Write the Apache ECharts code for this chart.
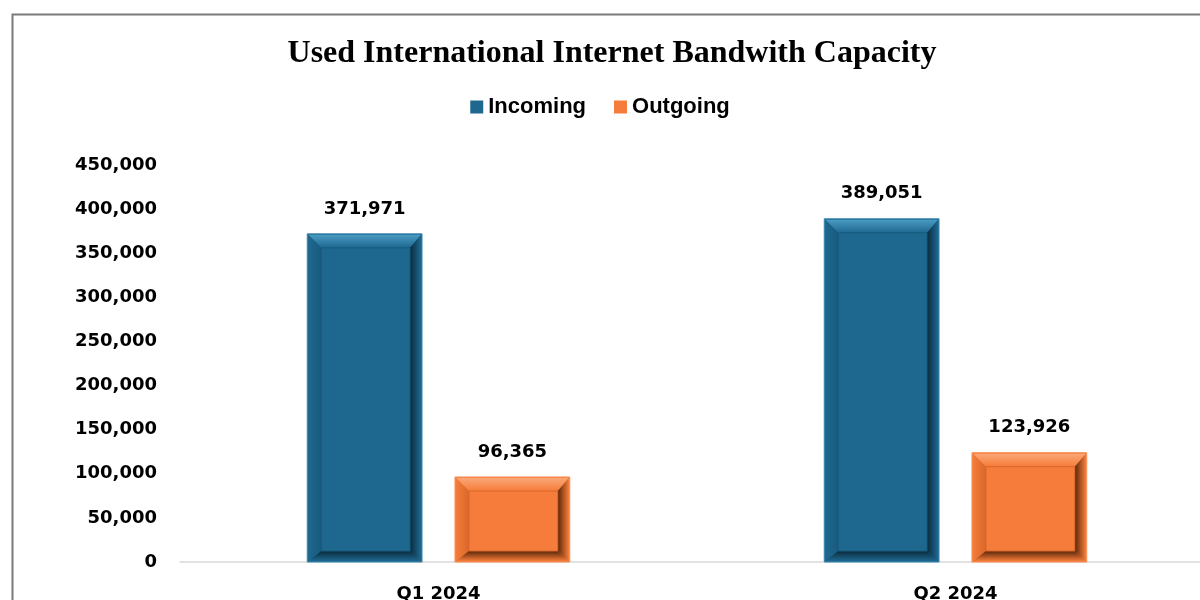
<!DOCTYPE html>
<html><head><meta charset="utf-8">
<script src="https://cdn.jsdelivr.net/npm/echarts@6/dist/echarts.min.js"></script>
<style>html,body{margin:0;padding:0;background:#fff}#c{width:1200px;height:600px}</style>
</head><body><div id="c"></div>
<script>
const categories = ['Q1 2024', 'Q2 2024'];
const incoming = [371971, 389051];
const outgoing = [96365, 123926];
const seriesNames = ['Incoming', 'Outgoing'];
const yTicks = [0, 50000, 100000, 150000, 200000, 250000, 300000, 350000, 400000, 450000];

const palettes = [
  {main:'#1E6890', edge:'#3B86AE', lighter:'#4A9AC2', dark:'#0A2B3D', mid:'#185A7D'},
  {main:'#F57C3A', edge:'#F79157', lighter:'#FBA777', dark:'#5A2608', mid:'#D8672A'}
];
const BAR_FRAC = 0.222, GAP_FRAC = 0.287;
const NUM_FONT = '"DejaVu Sans", Verdana, sans-serif';
function fmt(v){return v.toLocaleString('en-US');}
function lg(x0,y0,x1,y1,c0,c1){return new echarts.graphic.LinearGradient(x0,y0,x1,y1,[{offset:0,color:c0},{offset:1,color:c1}]);}

function makeRender(idx){
  const p = palettes[idx];
  return function(params, api){
    const ci = api.value(0), val = api.value(1);
    const base = api.coord([ci, 0]);
    const top = api.coord([ci, val]);
    const band = api.size([1, 0])[0];
    const bw = band * BAR_FRAC;
    const gap = bw * GAP_FRAC;
    const total = bw * 2 + gap;
    const x0 = base[0] - total / 2 + idx * (bw + gap);
    const x1 = x0 + bw;
    const y0 = top[1], y1 = base[1];
    const ix0 = x0 + 14, ix1 = x1 - 12, iy0 = y0 + 14, iy1 = y1 - 11;
    const poly = (pts, fill) => ({type:'polygon', shape:{points:pts}, style:{fill:fill}});
    return {type:'group', children:[
      {type:'rect', shape:{x:x0, y:y0, width:bw, height:y1-y0}, style:{fill:p.main, stroke:p.edge, lineWidth:1}},
      poly([[x0+1,y0+1],[x1-1,y0+1],[ix1,iy0],[ix0,iy0]], lg(0,0,0,1,p.lighter,p.main)),
      poly([[x0+1,y0+1],[ix0,iy0],[ix0,iy1],[x0+1,y1-1]], lg(0,0,1,0,p.main,p.mid)),
      poly([[x1-1,y0+1],[x1-1,y1-1],[ix1,iy1],[ix1,iy0]], lg(1,0,0,0,p.main,p.dark)),
      poly([[x0+1,y1-1],[x1-1,y1-1],[ix1,iy1],[ix0,iy1]], lg(0,1,0,0,p.main,p.dark)),
      {type:'rect', shape:{x:ix0, y:iy0, width:ix1-ix0, height:iy1-iy0}, style:{fill:p.main, stroke:p.mid, lineWidth:1}},
      {type:'text', x:(x0+x1)/2, y:y0-16, style:{text:fmt(val), fill:'#000', font:'bold 18px ' + NUM_FONT, align:'center', verticalAlign:'bottom'}}
    ]};
  };
}

const chart = echarts.init(document.getElementById('c'));
chart.setOption({
  animation:false,
  backgroundColor:'#fff',
  color:[palettes[0].main, palettes[1].main],
  graphic:[{type:'rect', left:10, top:12, shape:{x:0,y:0,width:1250,height:650}, style:{fill:null, stroke:'#7a7a7a', lineWidth:2}, silent:true}],
  title:{text:'Used International Internet Bandwith Capacity', left:607, textAlign:'center', top:33,
    textStyle:{fontFamily:'"Liberation Serif","Times New Roman",serif', fontWeight:'bold', fontSize:32, color:'#000'}},
  legend:{top:91, left:'center', itemWidth:13, itemHeight:13, itemGap:28, icon:'rect',
    textStyle:{fontFamily:'"Liberation Sans",Arial,sans-serif', fontWeight:'bold', fontSize:22, color:'#000'},
    data:seriesNames},
  grid:{left:180, right:-14, top:165, bottom:38, containLabel:false, outerBoundsMode:'none'},
  xAxis:{type:'category', data:categories,
    axisLine:{lineStyle:{color:'#d9d9d9', width:1.5}}, axisTick:{show:false},
    axisLabel:{color:'#000', fontWeight:'bold', fontSize:18, fontFamily:NUM_FONT, margin:23}},
  yAxis:{type:'value', min:yTicks[0], max:yTicks[yTicks.length-1], interval:yTicks[1]-yTicks[0],
    axisLine:{show:false}, axisTick:{show:false}, splitLine:{show:false},
    axisLabel:{color:'#000', fontWeight:'bold', fontSize:18, fontFamily:NUM_FONT, margin:23, formatter:v=>fmt(v)}},
  series:[
    {name:seriesNames[0], type:'custom', renderItem:makeRender(0), encode:{x:0,y:1}, data:incoming.map((v,i)=>[i,v])},
    {name:seriesNames[1], type:'custom', renderItem:makeRender(1), encode:{x:0,y:1}, data:outgoing.map((v,i)=>[i,v])}
  ]
});
</script></body></html>
